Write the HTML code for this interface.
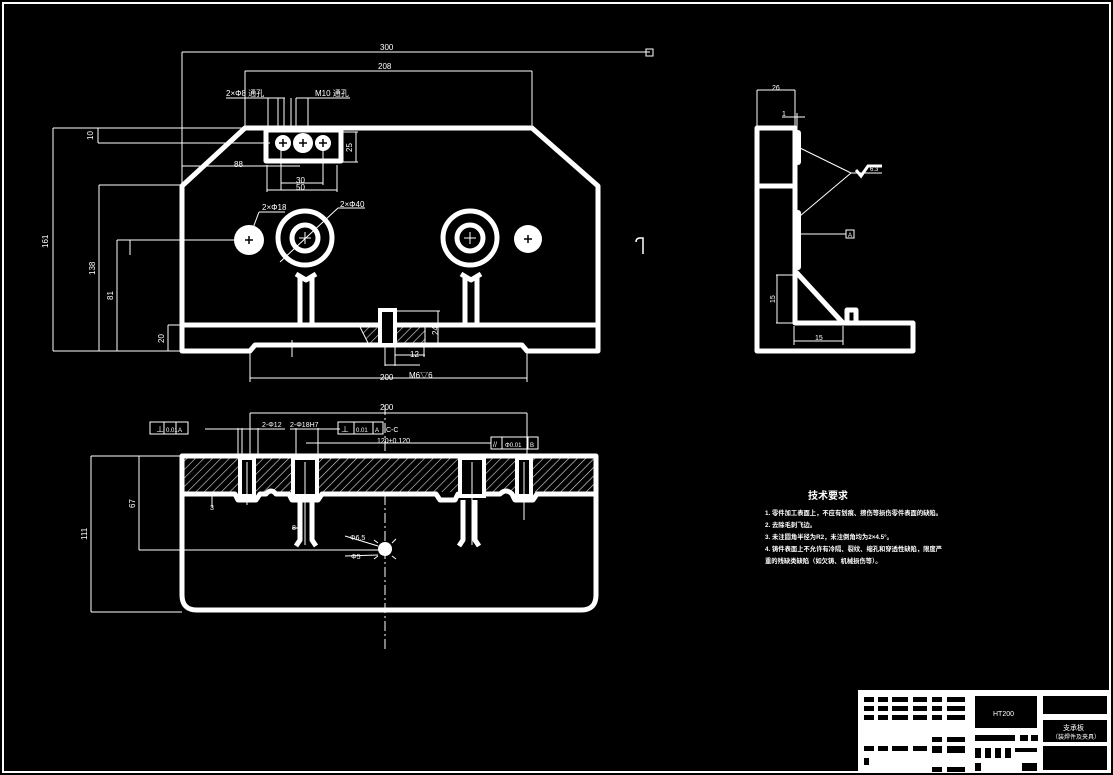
<!DOCTYPE html>
<html><head><meta charset="utf-8"><style>
html,body{margin:0;padding:0;background:#000;}
svg{display:block;}
text{font-family:"Liberation Sans","Noto Sans CJK SC",sans-serif;fill:#fff;}
</style></head><body>
<svg width="1113" height="775" viewBox="0 0 1113 775" xmlns="http://www.w3.org/2000/svg">
<defs>
<pattern id="h" width="6" height="6" patternUnits="userSpaceOnUse" patternTransform="rotate(45)">
<rect width="6" height="6" fill="#000"/><line x1="0" y1="0" x2="0" y2="6" stroke="#ddd" stroke-width="1.2"/>
</pattern>
</defs>
<rect width="1113" height="775" fill="#000"/>
<rect x="3" y="3" width="1107" height="769" fill="none" stroke="#fff" stroke-width="2"/>

<!-- ============ FRONT VIEW ============ -->
<g stroke="#fff" fill="none" stroke-width="1">
<!-- dims -->
<line x1="182" y1="52" x2="600" y2="52"/><line x1="182" y1="52" x2="182" y2="185"/>
<line x1="600" y1="52" x2="650" y2="52"/><rect x="646" y="49" width="7" height="7"/>
<line x1="245" y1="71" x2="532" y2="71"/><line x1="245" y1="71" x2="245" y2="128"/><line x1="532" y1="71" x2="532" y2="128"/>
<line x1="53" y1="128" x2="245" y2="128"/><line x1="53" y1="128" x2="53" y2="351"/><line x1="53" y1="351" x2="182" y2="351"/>
<line x1="99" y1="185" x2="182" y2="185"/><line x1="99" y1="185" x2="99" y2="351"/>
<line x1="117" y1="240" x2="235" y2="240"/><line x1="117" y1="240" x2="117" y2="351"/>
<line x1="168" y1="325" x2="182" y2="325"/><line x1="168" y1="325" x2="168" y2="351"/>
<line x1="98" y1="143" x2="270" y2="143"/><line x1="98" y1="128" x2="98" y2="143"/>
<line x1="182" y1="166" x2="300" y2="166"/>
<line x1="268" y1="98" x2="268" y2="128"/><line x1="278" y1="98" x2="278" y2="128"/><line x1="284" y1="98" x2="284" y2="128"/><line x1="291" y1="98" x2="291" y2="128"/>
<line x1="296" y1="98" x2="296" y2="128"/><line x1="308" y1="98" x2="308" y2="128"/>
<line x1="226" y1="98" x2="285" y2="98"/><line x1="296" y1="98" x2="350" y2="98"/>
<line x1="341" y1="132" x2="358" y2="132"/><line x1="341" y1="162" x2="358" y2="162"/><line x1="356" y1="132" x2="356" y2="162"/>
<line x1="281" y1="150" x2="281" y2="190"/><line x1="323" y1="150" x2="323" y2="185"/>
<line x1="281" y1="183" x2="323" y2="183"/>
<line x1="267" y1="165" x2="267" y2="192"/><line x1="337" y1="165" x2="337" y2="192"/>
<line x1="267" y1="190" x2="337" y2="190"/>
<line x1="250" y1="350" x2="250" y2="382"/><line x1="527" y1="350" x2="527" y2="382"/>
<line x1="250" y1="378" x2="527" y2="378"/>
<line x1="396" y1="311" x2="440" y2="311"/><line x1="438" y1="311" x2="438" y2="345"/>
<line x1="385" y1="345" x2="385" y2="366"/><line x1="395" y1="345" x2="395" y2="366"/>
<line x1="385" y1="365" x2="420" y2="365"/><line x1="395" y1="355" x2="425" y2="355"/><line x1="424" y1="345" x2="424" y2="357"/>
<line x1="292" y1="340" x2="292" y2="357"/>
<line x1="259" y1="212" x2="285" y2="212"/><line x1="259" y1="212" x2="244" y2="252"/>
<line x1="338" y1="208" x2="365" y2="208"/><line x1="338" y1="208" x2="280" y2="262"/>
<line x1="130" y1="240" x2="130" y2="255"/>
</g>
<g font-size="8">
<text x="380" y="50">300</text><text x="378" y="69">208</text>
<text x="226" y="96">2×Φ8 通孔</text><text x="315" y="96">M10 通孔</text>
<text x="234" y="167">88</text><text x="296" y="183">30</text><text x="296" y="190">50</text>
<text x="262" y="210">2×Φ18</text><text x="340" y="207">2×Φ40</text>
<text x="409" y="378">M6▽6</text><text x="410" y="357">12</text><text x="380" y="380">200</text>
<text transform="translate(48,248) rotate(-90)">161</text>
<text transform="translate(95,275) rotate(-90)">138</text>
<text transform="translate(113,300) rotate(-90)">81</text>
<text transform="translate(164,343) rotate(-90)">20</text>
<text transform="translate(93,140) rotate(-90)">10</text>
<text transform="translate(352,152) rotate(-90)">25</text>
<text transform="translate(438,335) rotate(-90)">24</text>
</g>
<!-- front view body -->
<g stroke="#fff" fill="none" stroke-width="5" stroke-linejoin="round">
<path d="M245,128 L532,128 L598,186 L598,351 L527,351 L522,345 L255,345 L250,351 L182,351 L182,186 Z"/>
<line x1="182" y1="325" x2="598" y2="325"/>
<rect x="266" y="130" width="75" height="31"/>
<path d="M300,326 V277 M312,326 V277 M296,274 L306,280 L316,274"/>
<path d="M465,326 V277 M477,326 V277 M461,274 L471,280 L481,274"/>
</g>
<path d="M360,327 L425,327 L425,343 L368,343 Z" fill="url(#h)" stroke="#fff" stroke-width="1"/>
<rect x="380" y="310" width="15" height="35" fill="#000" stroke="#fff" stroke-width="4"/>
<g fill="#fff">
<circle cx="283" cy="143" r="8"/><circle cx="303" cy="143" r="10"/><circle cx="323" cy="143" r="8"/>
<circle cx="249" cy="240" r="15"/><circle cx="528" cy="239" r="14"/>
</g>
<g fill="none" stroke="#fff" stroke-width="5">
<circle cx="305" cy="238" r="27"/><circle cx="305" cy="238" r="13"/>
<circle cx="470" cy="238" r="27"/><circle cx="470" cy="238" r="13"/>
</g>
<g stroke="#000" stroke-width="1.5">
<path d="M279,143h8M283,139v8M299,143h8M303,139v8M319,143h8M323,139v8M245,240h8M249,236v8M524,239h8M528,235v8"/>
</g>
<g stroke="#fff" stroke-width="1"><path d="M299,238h12M305,232v12M464,238h12M470,232v12"/></g>
<path d="M636,242 q0,-4 4,-4 h3 v16" fill="none" stroke="#fff" stroke-width="1.5"/>

<!-- ============ BOTTOM VIEW ============ -->
<g stroke="#fff" fill="none" stroke-width="1">
<line x1="250" y1="413" x2="527" y2="413"/><line x1="250" y1="413" x2="250" y2="456"/><line x1="527" y1="413" x2="527" y2="456"/>
<line x1="238" y1="428" x2="238" y2="456"/><line x1="242" y1="428" x2="242" y2="456"/><line x1="258" y1="428" x2="258" y2="456"/>
<line x1="296" y1="428" x2="296" y2="456"/><line x1="318" y1="428" x2="318" y2="456"/>
<line x1="205" y1="429" x2="285" y2="429"/><line x1="290" y1="429" x2="340" y2="429"/>
<rect x="150" y="422" width="38" height="12"/><line x1="164" y1="422" x2="164" y2="434"/><line x1="176" y1="422" x2="176" y2="434"/>
<rect x="338" y="422" width="45" height="12"/><line x1="354" y1="422" x2="354" y2="434"/><line x1="373" y1="422" x2="373" y2="434"/>
<line x1="306" y1="443" x2="471" y2="443"/>
<rect x="491" y="437" width="47" height="12"/><line x1="502" y1="437" x2="502" y2="449"/><line x1="528" y1="437" x2="528" y2="449"/>
<line x1="471" y1="443" x2="491" y2="443"/>
<line x1="91" y1="456" x2="182" y2="456"/><line x1="91" y1="456" x2="91" y2="612"/><line x1="91" y1="612" x2="182" y2="612"/>
<line x1="139" y1="456" x2="139" y2="550"/><line x1="139" y1="550" x2="385" y2="550"/>
<line x1="212" y1="483" x2="212" y2="507"/>
<line x1="300" y1="528" x2="292" y2="528"/>
<line x1="345" y1="536" x2="378" y2="546"/><line x1="345" y1="556" x2="378" y2="555"/>
</g>
<line x1="385" y1="405" x2="385" y2="652" stroke="#fff" stroke-width="1" stroke-dasharray="10,3,2,3"/>
<g font-size="8">
<text x="380" y="410">200</text><text x="156" y="432">⊥</text><text x="166" y="432" font-size="6">0.01</text><text x="178" y="432" font-size="6">A</text>
<text x="262" y="427" font-size="7">2-Φ12</text><text x="290" y="427" font-size="7">2-Φ18H7</text>
<text x="341" y="432">⊥</text><text x="356" y="432" font-size="6">0.01</text><text x="375" y="432" font-size="6">A</text>
<text x="386" y="432" font-size="7">C-C</text>
<text x="377" y="443" font-size="7">120±0.120</text>
<text x="493" y="447" font-size="7">//</text><text x="505" y="447" font-size="6">Φ0.01</text><text x="530" y="447" font-size="6">B</text>
<text x="350" y="540" font-size="7">Φ6.5</text><text x="351" y="559" font-size="7">Φ5</text>
<text x="292" y="530" font-size="7">8</text><text x="210" y="510" font-size="7">3</text>
<text transform="translate(87,540) rotate(-90)">111</text>
<text transform="translate(135,508) rotate(-90)">67</text>
</g>
<rect x="183" y="458" width="412" height="34" fill="url(#h)"/>
<g stroke="#fff" fill="none" stroke-width="5" stroke-linejoin="round">
<path d="M182,456 L596,456 L596,595 Q596,610 581,610 L197,610 Q182,610 182,595 Z"/>
<path d="M182,494 L235,494 L238,500 L256,500 L260,494 L266,494 Q271,488 276,494 L289,494 L292,500 L318,500 L322,494 L436,494 L440,500 L455,500 L458,494 L500,494 Q506,488 512,494 L515,500 L533,500 L537,494 L596,494"/>
<path d="M300,500 V540 L296,546 M312,500 V540 L316,546"/>
<path d="M463,500 V540 L459,546 M475,500 V540 L479,546"/>
</g>
<g fill="#000" stroke="#fff" stroke-width="4">
<rect x="240" y="458" width="14" height="38"/><rect x="293" y="458" width="24" height="38"/>
<rect x="460" y="458" width="24" height="38"/><rect x="517" y="458" width="14" height="38"/>
</g>
<g stroke="#fff" stroke-width="1"><path d="M247,462V505M305,462V545M472,462V545M524,462V520"/></g>
<circle cx="385" cy="549" r="7" fill="#fff"/>
<path d="M378,543l-4,-3M392,543l4,-4M378,556l-4,3M392,556l4,3" stroke="#fff" stroke-width="1"/>

<!-- ============ SIDE VIEW ============ -->
<g stroke="#fff" fill="none" stroke-width="1">
<line x1="757" y1="90" x2="795" y2="90"/><line x1="757" y1="90" x2="757" y2="128"/><line x1="795" y1="90" x2="795" y2="128"/>
<line x1="782" y1="117" x2="805" y2="117"/><line x1="797" y1="113" x2="797" y2="128"/>
<line x1="800" y1="148" x2="851" y2="173"/><line x1="800" y1="216" x2="851" y2="173"/><line x1="851" y1="173" x2="882" y2="173"/>
<line x1="800" y1="234" x2="846" y2="234"/><rect x="846" y="230" width="8" height="8"/>
<line x1="776" y1="275" x2="795" y2="275"/><line x1="776" y1="323" x2="795" y2="323"/><line x1="777" y1="275" x2="777" y2="323"/>
<line x1="794" y1="326" x2="794" y2="345"/><line x1="843" y1="326" x2="843" y2="345"/><line x1="794" y1="341" x2="843" y2="341"/>
</g>
<path d="M856,170 l5,6 l7,-10 h14" fill="none" stroke="#fff" stroke-width="3"/>
<g font-size="7"><text x="772" y="90">26</text><text x="782" y="116">1</text><text x="870" y="171" font-size="6">6.3</text>
<text x="848" y="237" font-size="6">A</text><text x="815" y="340">15</text>
<text transform="translate(775,303) rotate(-90)">15</text></g>
<g stroke="#fff" fill="none" stroke-width="5" stroke-linejoin="round">
<path d="M757,128 L795,128 L795,323 L913,323 L913,351 L757,351 Z"/>
<line x1="757" y1="186" x2="795" y2="186"/>
<line x1="796" y1="272" x2="843" y2="323"/>
<path d="M847,323 V310 H856 V323"/>
</g>
<g fill="#fff"><rect x="795" y="130" width="6" height="35" rx="3"/><rect x="795" y="210" width="6" height="60" rx="3"/></g>

<!-- ============ TECH REQUIREMENTS ============ -->
<g font-family="'Liberation Sans','Noto Sans CJK SC',sans-serif">
<text x="808" y="499" font-size="10" font-weight="bold">技术要求</text>
<g font-size="6.3" font-weight="bold">
<text x="765" y="515">1. 零件加工表面上，不应有划痕、擦伤等损伤零件表面的缺陷。</text>
<text x="765" y="527">2. 去除毛刺飞边。</text>
<text x="765" y="539">3. 未注圆角半径为R2，未注倒角均为2×4.5°。</text>
<text x="765" y="551">4. 铸件表面上不允许有冷隔、裂纹、缩孔和穿透性缺陷，限度严</text>
<text x="765" y="563">重的残缺类缺陷（如欠铸、机械损伤等）。</text>
</g></g>

<!-- ============ TITLE BLOCK ============ -->
<rect x="858" y="690" width="252" height="82" fill="#fff"/>
<g fill="#000">
<g id="r1">
<rect x="864" y="697" width="10" height="5"/><rect x="878" y="697" width="10" height="5"/><rect x="892" y="697" width="16" height="5"/>
<rect x="913" y="697" width="14" height="5"/><rect x="932" y="697" width="10" height="5"/><rect x="947" y="697" width="18" height="5"/>
</g>
<use href="#r1" y="9"/><use href="#r1" y="18"/>
<use href="#r1" y="49"/>
<rect x="932" y="737" width="10" height="5"/><rect x="947" y="737" width="18" height="5"/>
<rect x="932" y="748" width="10" height="5"/><rect x="947" y="748" width="18" height="5"/>
<rect x="932" y="767" width="10" height="5"/><rect x="947" y="767" width="18" height="5"/>
<rect x="864" y="758" width="5" height="7"/>
<rect x="975" y="696" width="62" height="32"/>
<rect x="1043" y="696" width="64" height="18"/><rect x="1043" y="720" width="64" height="22"/><rect x="1043" y="746" width="64" height="24"/>
<rect x="975" y="735" width="40" height="6"/><rect x="1020" y="735" width="8" height="6"/><rect x="1031" y="735" width="7" height="6"/>
<rect x="975" y="748" width="6" height="10"/><rect x="985" y="748" width="6" height="10"/><rect x="995" y="748" width="6" height="10"/><rect x="1005" y="748" width="6" height="10"/>
<rect x="1015" y="748" width="22" height="4"/>
<rect x="975" y="763" width="6" height="8"/><rect x="1022" y="763" width="15" height="8"/>
</g>
<text x="993" y="716" font-size="7">HT200</text>
<text x="1063" y="730" font-size="7">支承板</text>
<text x="1052" y="739" font-size="6">（装焊件及夹具）</text>
</svg>
</body></html>
